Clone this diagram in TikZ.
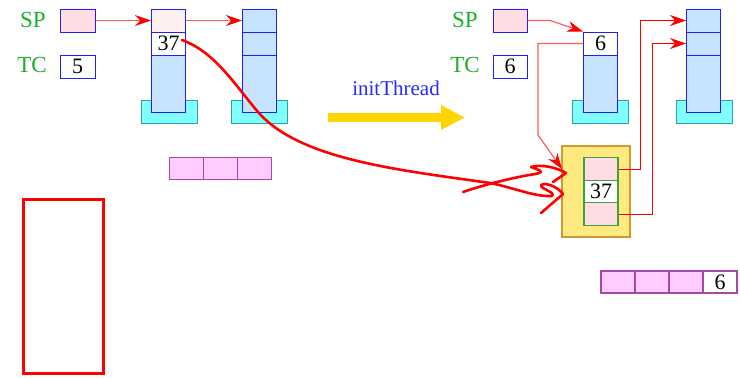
\documentclass[tikz,border=0pt]{standalone}
\usepackage{fontspec}
\setmainfont{Liberation Serif}
\usetikzlibrary{arrows.meta}
\definecolor{cellblue}{RGB}{198,228,255}
\definecolor{bordblue}{RGB}{30,30,255}
\definecolor{basecyan}{RGB}{128,255,255}
\definecolor{baseedge}{RGB}{50,160,160}
\definecolor{spink}{RGB}{255,221,226}
\definecolor{lpink}{RGB}{255,240,240}
\definecolor{lblgreen}{RGB}{30,175,40}
\definecolor{ybox}{RGB}{255,234,128}
\definecolor{yedge}{RGB}{210,150,50}
\definecolor{gedge}{RGB}{60,160,60}
\definecolor{mfill}{RGB}{255,204,255}
\definecolor{medge}{RGB}{170,70,170}
\definecolor{gold}{RGB}{255,212,0}
\definecolor{lred}{RGB}{255,90,90}
\definecolor{ttblue}{RGB}{40,40,255}
\tikzset{
  cell/.style={draw=bordblue, line width=0.5pt, minimum width=17pt, minimum height=11.5pt, inner sep=0pt, font=\fontsize{11}{12}\selectfont},
  tall/.style={cell, fill=cellblue, minimum height=28.5pt},
  base/.style={draw=baseedge, fill=basecyan, line width=0.5pt, minimum width=28pt, minimum height=11.5pt, inner sep=0pt},
  lbl/.style={text=lblgreen, font=\fontsize{11.5}{12}\selectfont, inner sep=0pt},
  gcell/.style={draw=gedge, line width=0.6pt, minimum width=17pt, minimum height=11.25pt, inner sep=0pt, font=\fontsize{11}{12}\selectfont},
  mcell/.style={draw=medge, fill=mfill, line width=0.6pt, minimum width=17pt, minimum height=11pt, inner sep=0pt, font=\fontsize{11}{12}\selectfont},
  ptr/.style={draw=lred, line width=0.6pt, -{Stealth[length=8pt,width=5.5pt,color=red,fill=red]}},
  rptr/.style={draw=red, line width=0.5pt, -{Stealth[length=8pt,width=5.5pt]}},
  hand/.style={draw=red, line width=1.3pt, line cap=round, line join=round},
}
\begin{document}
\begin{tikzpicture}[x=0.5pt,y=-0.5pt]
\useasboundingbox (0,0) rectangle (740,377);
% ---------- left state ----------
\node[lbl] (spl) at (33,20) {SP};
\node[lbl] (tcl) at (32,65) {TC};
\node[cell, fill=spink, minimum width=17.5pt] (sp1) at (77.5,20.5) {};
\node[cell, fill=white, minimum width=17.5pt] (tc1) at (77.5,66.5) {5};
% stack 1
\node[base] (b1) at (169,111.5) {};
\node[cell, fill=lpink] (s1a) at (168.5,20.5) {};
\node[cell, fill=white] (s1b) at (168.5,43.5) {37};
\node[tall] (s1c) at (168.5,83.5) {};
% stack 2
\node[base] (b2) at (259.5,111.5) {};
\node[cell, fill=cellblue] (s2a) at (259.5,20.5) {};
\node[cell, fill=cellblue] (s2b) at (259.5,43.5) {};
\node[tall] (s2c) at (259.5,83.5) {};
% magenta row left
\node[mcell] (m1) at (186.2,168.5) {};
\node[mcell] (m2) at (220.5,168.5) {};
\node[mcell] (m3) at (254.8,168.5) {};
% red rectangle
\node[draw=red, line width=1.5pt, minimum width=40pt, minimum height=87pt, inner sep=0pt] (rr) at (63,286) {};
\draw[ptr] (sp1.east) -- (s1a.west);
\draw[ptr] (s1a.east) -- (s2a.west);
% ---------- transition ----------
\node[text=ttblue, font=\fontsize{10.5}{12}\selectfont, inner sep=0pt] (it) at (396,88) {initThread};
\coordinate (ya) at (328,117.5);
\coordinate (yb) at (465,117.5);
\draw[gold, line width=4.5pt, -{Triangle[length=12pt,width=11.5pt]}] (ya) -- (yb);
% ---------- right state ----------
\node[lbl] (spr) at (465,20) {SP};
\node[lbl] (tcr) at (465,65) {TC};
\node[cell, fill=spink, minimum width=17pt] (sp2) at (510,20.5) {};
\node[cell, fill=white, minimum width=17pt] (tc2) at (510,66.5) {6};
% stack 3
\node[base] (b3) at (600.5,111.5) {};
\node[cell, fill=white] (s3b) at (600.5,43.5) {6};
\node[tall] (s3c) at (600.5,83.5) {};
% stack 4
\node[base] (b4) at (704,111.5) {};
\node[cell, fill=cellblue] (s4a) at (703.5,20.5) {};
\node[cell, fill=cellblue] (s4b) at (703.5,43.5) {};
\node[tall] (s4c) at (703.5,83.5) {};
% yellow frame
\node[draw=yedge, fill=ybox, line width=0.6pt, minimum width=34pt, minimum height=45.5pt, inner sep=0pt] (yb1) at (596,191.5) {};
\node[gcell, fill=spink] (g1) at (601,169) {};
\node[gcell, fill=white] (g2) at (601,191.5) {37};
\node[gcell, fill=spink] (g3) at (601,214) {};
% magenta row right
\node[mcell] (n1) at (618,282) {};
\node[mcell] (n2) at (652,282) {};
\node[mcell] (n3) at (686,282) {};
\node[mcell, fill=white] (n4) at (720,282) {6};
% pointers
\coordinate (spbend) at (550,20.5);
\draw[ptr] (sp2.east) -- (spbend) -- (s3b.north west);
\coordinate (yin) at (562,169);
\draw[ptr] (s3b.west) -- (538,43.5) -- (538,135) -- (yin);
\draw[rptr] (g1.east) -- ++(22,0) |- (s4a.west);
\draw[rptr] (g3.east) -- ++(34,0) |- (s4b.west);
% hand-drawn strokes
\coordinate (hs) at (182,40);
\draw[hand] (hs) .. controls (215,52) and (235,85) .. (258,112)
  .. controls (300,160) and (400,170) .. (490,183)
  .. controls (515,188) and (535,197) .. (552,196)
  .. controls (556,192) and (540,189) .. (541,185)
  .. controls (546,182) and (558,187) .. (563,194) -- (541,213);
\draw[hand] (463,192) .. controls (480,186) and (510,178) .. (535,174)
  .. controls (548,172) and (536,169) .. (531,167)
  .. controls (540,164) and (556,167) .. (566,173) -- (553,182);
\end{tikzpicture}
\end{document}
